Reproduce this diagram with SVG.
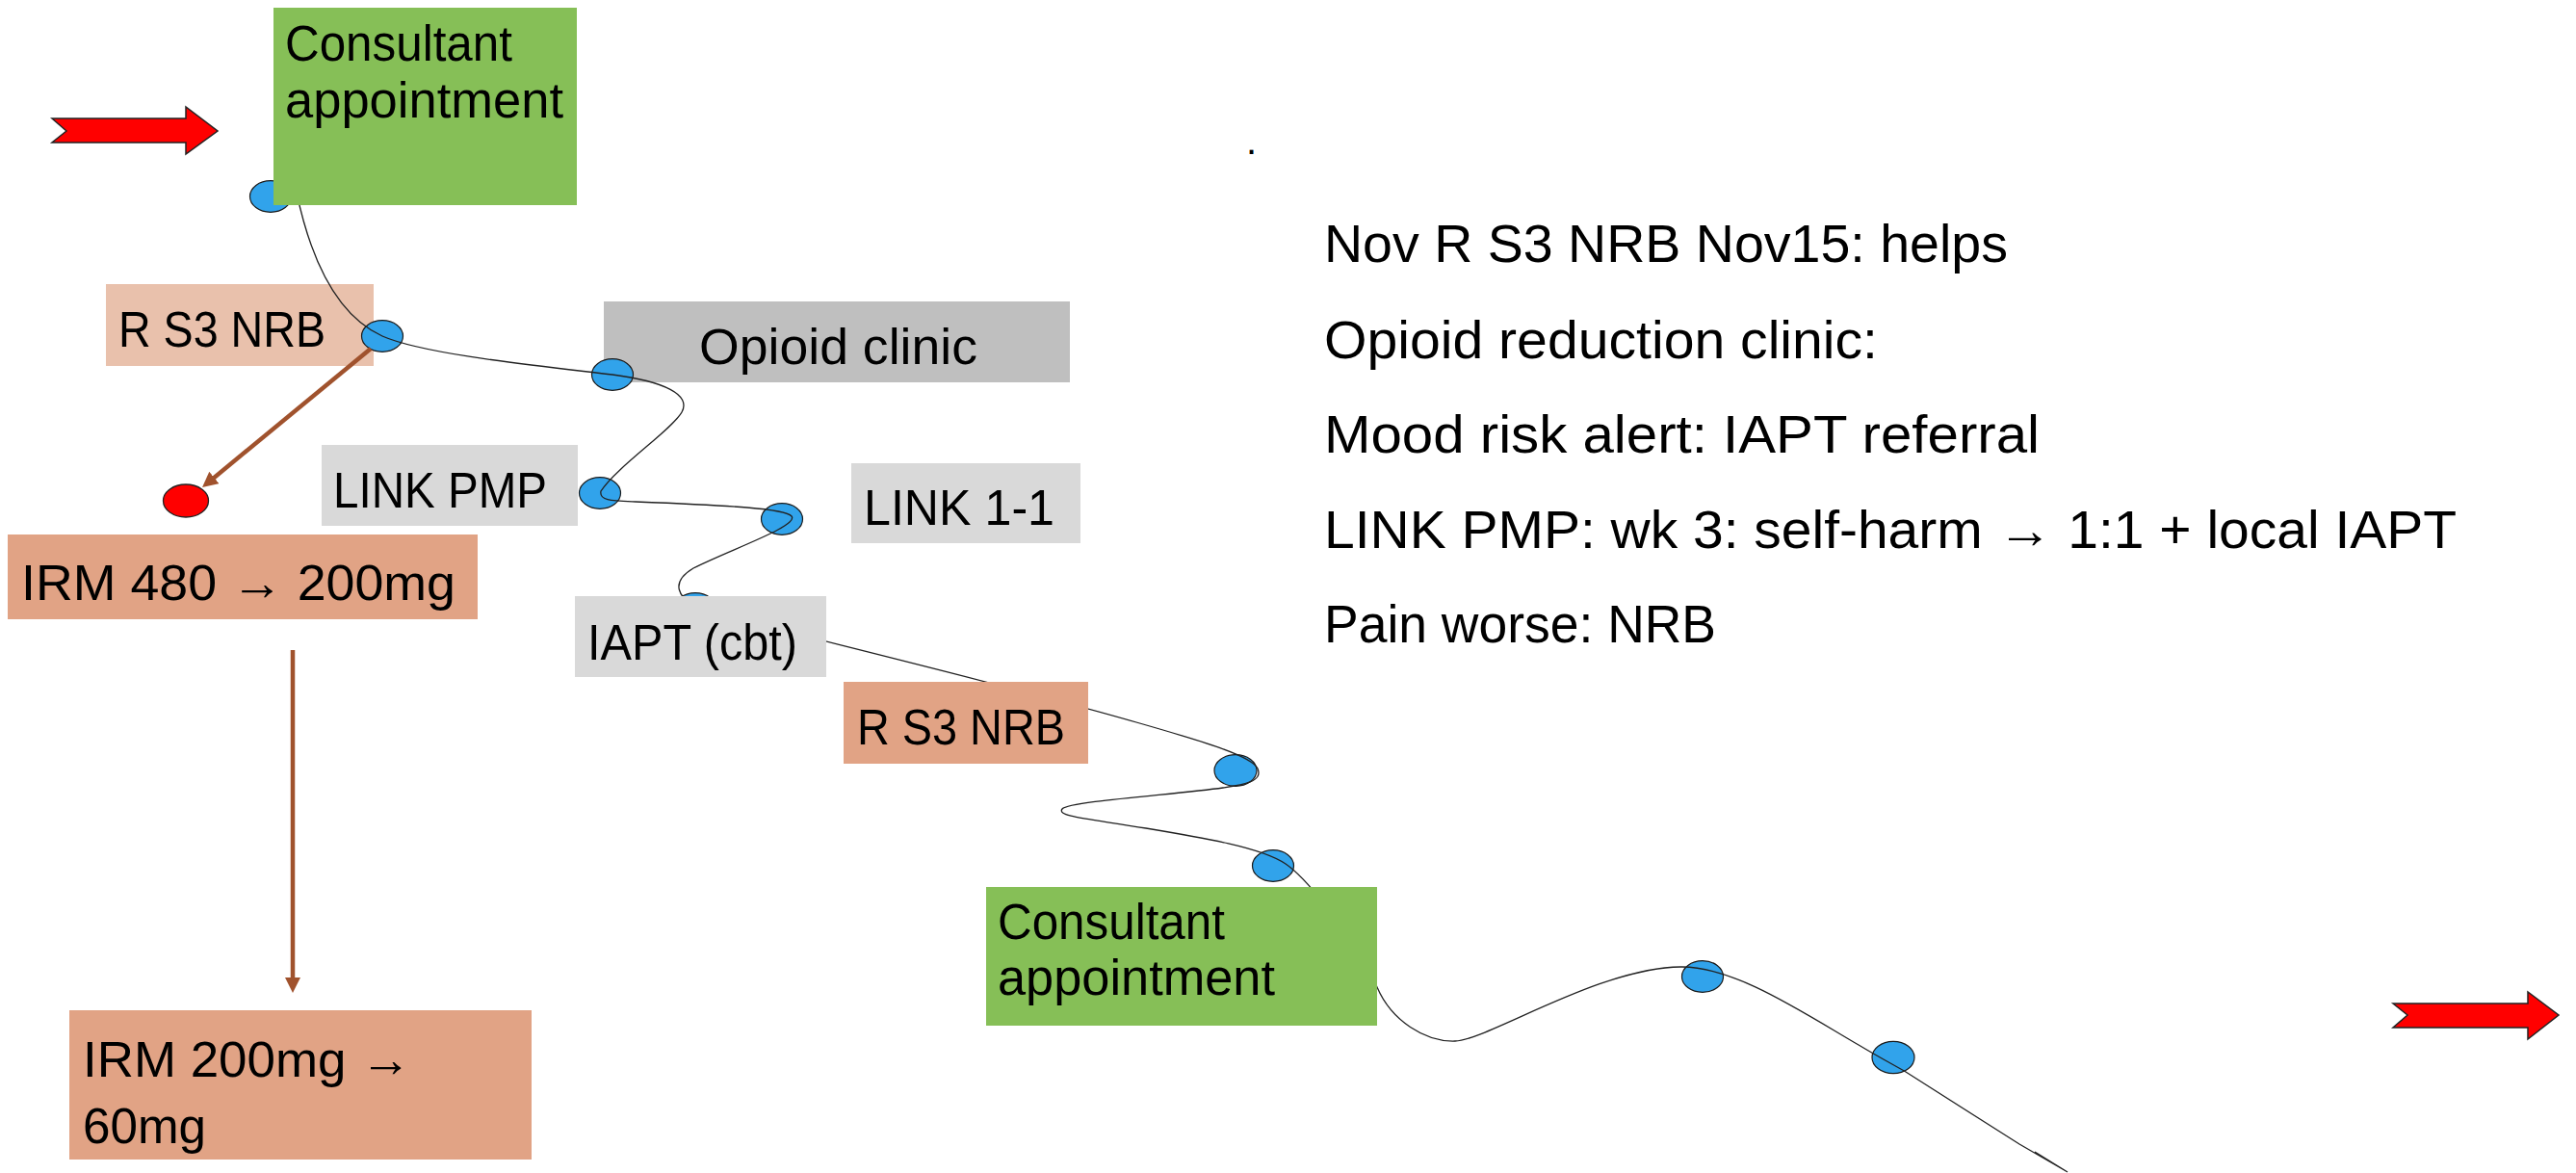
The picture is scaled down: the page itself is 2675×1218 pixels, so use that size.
<svg xmlns="http://www.w3.org/2000/svg" width="2675" height="1218" viewBox="0 0 2675 1218">
<defs>
<style>
.lbl{font-family:"Liberation Sans",Arial,sans-serif;font-size:51px;fill:#000}
.irm{font-family:"Liberation Sans",Arial,sans-serif;font-size:52px;fill:#000}
.note{font-family:"Liberation Sans",Arial,sans-serif;font-size:55px;fill:#000}
.green{fill:#86BF57}
.peach{fill:#E9C1AC}
.salmon{fill:#E1A385}
.grey{fill:#BFBFBF}
.lgrey{fill:#D9D9D9}
.dot{fill:#31A3EB;stroke:#1a1a1a;stroke-width:1.2}
.curve{fill:none;stroke:#222;stroke-width:1.3}
.brown{fill:none;stroke:#A0522D;stroke-width:4.5}
.bigarrow{fill:#FF0000;stroke:#222;stroke-width:1.5}
</style>
<marker id="bh" markerUnits="userSpaceOnUse" markerWidth="17" markerHeight="17" refX="4" refY="8" orient="auto">
<path d="M0,0 L16,8 L0,16 z" fill="#A0522D"/>
</marker>
</defs>
<rect width="2675" height="1218" fill="#fff"/>

<!-- red block arrows -->
<polygon id="arrow-in" class="bigarrow" points="54,123 69,136 54,148 193,148 193,160 226,136 193,111 193,123"/>
<polygon id="arrow-out" class="bigarrow" points="2485,1042 2500,1054 2485,1067 2625,1067 2625,1079 2657,1054 2625,1030 2625,1042"/>

<!-- back nodes -->
<g id="node-rs3nrb-1"><rect class="peach" x="110" y="295" width="278" height="85"/><text class="lbl" x="123" y="360" textLength="215" lengthAdjust="spacingAndGlyphs">R S3 NRB</text></g>
<g id="node-opioid"><rect class="grey" x="627" y="313" width="484" height="84"/><text class="lbl" x="726" y="378" textLength="289" lengthAdjust="spacingAndGlyphs">Opioid clinic</text></g>
<g id="node-linkpmp"><rect class="lgrey" x="334" y="462" width="266" height="84"/><text class="lbl" x="346" y="527" textLength="222" lengthAdjust="spacingAndGlyphs">LINK PMP</text></g>
<g id="node-link11"><rect class="lgrey" x="884" y="481" width="238" height="83"/><text class="lbl" x="897" y="545" textLength="198" lengthAdjust="spacingAndGlyphs">LINK 1-1</text></g>
<g id="node-irm480"><rect class="salmon" x="8" y="555" width="488" height="88"/><text class="irm" x="22" y="623" textLength="451" lengthAdjust="spacingAndGlyphs">IRM 480 → 200mg</text></g>
<g id="node-irm200"><rect class="salmon" x="72" y="1049" width="480" height="155"/><text class="irm" x="86" y="1118" textLength="341" lengthAdjust="spacingAndGlyphs">IRM 200mg →</text><text class="irm" x="86" y="1187" textLength="128" lengthAdjust="spacingAndGlyphs">60mg</text></g>
<g id="node-reddot"><ellipse cx="193" cy="520" rx="23.5" ry="17" fill="#FF0000" stroke="#222" stroke-width="1.3"/></g>

<!-- timeline dots -->
<g id="dots">
<ellipse class="dot" cx="281" cy="204" rx="21.5" ry="16.3"/>
<ellipse class="dot" cx="397" cy="349" rx="21.5" ry="16.3"/>
<ellipse class="dot" cx="636" cy="389" rx="21.5" ry="16.3"/>
<ellipse class="dot" cx="623" cy="512" rx="21.5" ry="16.3"/>
<ellipse class="dot" cx="812" cy="539" rx="21.5" ry="16.3"/>
<ellipse class="dot" cx="722" cy="632" rx="21.5" ry="16.3"/>
<ellipse class="dot" cx="1283" cy="800" rx="22" ry="16.3"/>
<ellipse class="dot" cx="1322" cy="899" rx="21.5" ry="16.3"/>
<ellipse class="dot" cx="1768" cy="1014" rx="21.5" ry="16.3"/>
<ellipse class="dot" cx="1966" cy="1098" rx="22" ry="16.7"/>
</g>

<!-- connectors -->
<g id="connectors">
<path class="curve" d="M308,200 C325,280 355,330 397,349 C440,368 560,380 636,389 C690,396 718,410 708,428 C698,446 640,485 624,510 C622,520 635,520 660,521 C760,525 815,528 822,536 C830,546 760,570 720,590 C695,605 705,620 722,631 C780,648 1050,712 1180,750 C1250,770 1300,785 1306,798 C1312,812 1290,815 1270,818 C1220,825 1110,832 1103,840 C1097,848 1130,850 1190,860 C1250,870 1310,880 1335,897 C1350,907 1400,960 1430,1025 C1445,1060 1480,1082 1511,1081 C1545,1080 1660,1005 1745,1004 C1800,1003 1870,1050 1930,1085 C1950,1097 1965,1105 1979,1113 L2097,1188 L2147,1217 L2113,1196"/>
<line class="brown" x1="385" y1="362" x2="219.3" y2="498.4" marker-end="url(#bh)"/>
<line class="brown" x1="304" y1="675" x2="304" y2="1019" marker-end="url(#bh)"/>
</g>

<!-- front nodes -->
<g id="node-consultant-1"><rect class="green" x="284" y="8" width="315" height="205"/><text class="lbl" x="296" y="63" textLength="236" lengthAdjust="spacingAndGlyphs">Consultant</text><text class="lbl" x="296" y="122" textLength="289" lengthAdjust="spacingAndGlyphs">appointment</text></g>
<g id="node-iapt"><rect class="lgrey" x="597" y="619" width="261" height="84"/><text class="lbl" x="610" y="685" textLength="218" lengthAdjust="spacingAndGlyphs">IAPT (cbt)</text></g>
<g id="node-rs3nrb-2"><rect class="salmon" x="876" y="708" width="254" height="85"/><text class="lbl" x="890" y="773" textLength="216" lengthAdjust="spacingAndGlyphs">R S3 NRB</text></g>
<g id="node-consultant-2"><rect class="green" x="1024" y="921" width="406" height="144"/><text class="lbl" x="1036" y="975" textLength="236" lengthAdjust="spacingAndGlyphs">Consultant</text><text class="lbl" x="1036" y="1033" textLength="288" lengthAdjust="spacingAndGlyphs">appointment</text></g>

<!-- notes -->
<g id="notes">
<text x="1294" y="160" style="font-family:'Liberation Sans',Arial,sans-serif;font-size:40px">.</text>
<text class="note" x="1375" y="272" textLength="710" lengthAdjust="spacingAndGlyphs">Nov R S3 NRB Nov15: helps</text>
<text class="note" x="1375" y="372" textLength="575" lengthAdjust="spacingAndGlyphs">Opioid reduction clinic:</text>
<text class="note" x="1375" y="470" textLength="743" lengthAdjust="spacingAndGlyphs">Mood risk alert: IAPT referral</text>
<text class="note" x="1375" y="569" textLength="1176" lengthAdjust="spacingAndGlyphs">LINK PMP: wk 3: self-harm → 1:1 + local IAPT</text>
<text class="note" x="1375" y="667" textLength="407" lengthAdjust="spacingAndGlyphs">Pain worse: NRB</text>
</g>
</svg>
